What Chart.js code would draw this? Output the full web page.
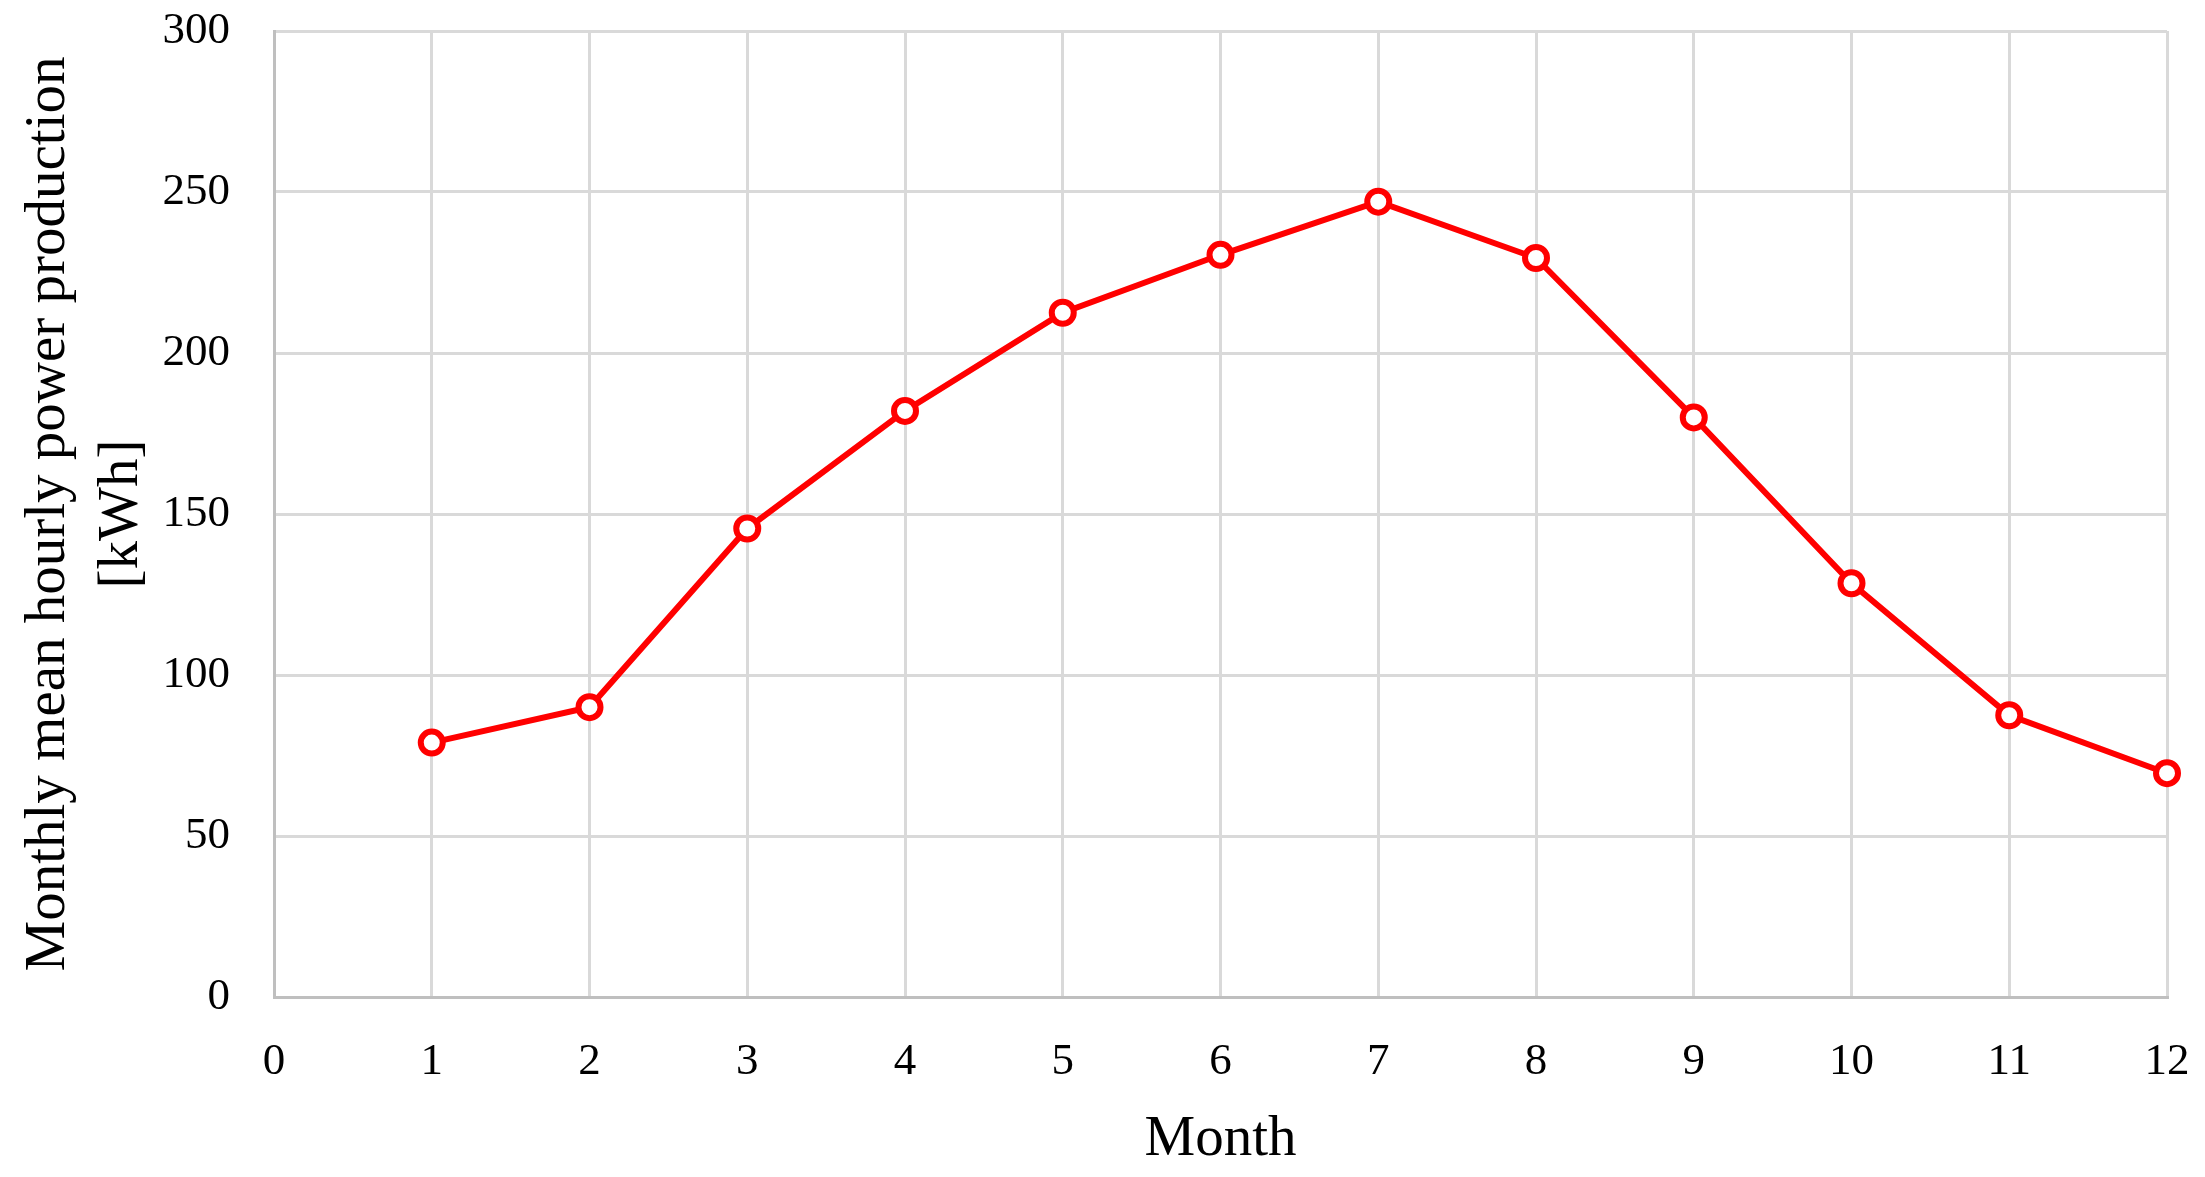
<!DOCTYPE html>
<html>
<head>
<meta charset="utf-8">
<style>
  html, body { margin: 0; padding: 0; background: #ffffff; }
  #wrap { width: 2205px; height: 1177px; position: relative; }
</style>
<script src="https://cdn.jsdelivr.net/npm/chart.js@4.4.1/dist/chart.umd.min.js"></script>
</head>
<body>
<div id="wrap"><canvas id="c" width="2205" height="1177"></canvas></div>
<script>
const months = [1, 2, 3, 4, 5, 6, 7, 8, 9, 10, 11, 12];
const production = [79, 90, 145.5, 182, 212.5, 230.5, 247, 229.5, 180, 128.5, 87.5, 69.5];
const xTitle = 'Month';
const yTitle = ['Monthly mean hourly power production', '[kWh]'];
const xRange = [0, 12];
const yRange = [0, 300];

const points = months.map((m, i) => ({ x: m, y: production[i] }));

function zeroPad(s) {
  s.paddingTop = 0; s.paddingBottom = 0; s.paddingLeft = 0; s.paddingRight = 0;
}

new Chart(document.getElementById('c'), {
  type: 'line',
  data: {
    datasets: [{
      data: points,
      borderColor: '#ff0000',
      borderWidth: 6,
      backgroundColor: '#ffffff',
      pointBackgroundColor: '#ffffff',
      pointBorderColor: '#ff0000',
      pointBorderWidth: 6,
      pointRadius: 11,
      tension: 0,
      clip: false
    }]
  },
  options: {
    responsive: false,
    animation: false,
    devicePixelRatio: 1,
    layout: { padding: { left: 0, right: 38, top: 31, bottom: 0 } },
    plugins: { legend: { display: false }, tooltip: { enabled: false } },
    scales: {
      x: {
        type: 'linear',
        min: xRange[0], max: xRange[1],
        ticks: { stepSize: 1, color: '#000000', padding: 38,
                 font: { family: 'Liberation Serif', size: 45 } },
        grid: { color: '#d9d9d9', lineWidth: 3, drawTicks: false },
        border: { color: '#bfbfbf', width: 3 },
        title: { display: true, text: xTitle, color: '#000000',
                 font: { family: 'Liberation Serif', size: 57, lineHeight: 1.2 },
                 padding: { top: 0, bottom: 3 } },
        afterFit: (s) => { s.height = 180; zeroPad(s); }
      },
      y: {
        min: yRange[0], max: yRange[1],
        ticks: { stepSize: 50, color: '#000000', padding: 44,
                 font: { family: 'Liberation Serif', size: 45 } },
        grid: { color: '#d9d9d9', lineWidth: 3, drawTicks: false },
        border: { color: '#bfbfbf', width: 3 },
        title: { display: true, text: yTitle, color: '#000000',
                 font: { family: 'Liberation Serif', size: 57, lineHeight: 1.27 },
                 padding: { top: 13, bottom: 0 } },
        afterFit: (s) => { s.width = 274; zeroPad(s); }
      }
    }
  }
});
</script>
</body>
</html>
